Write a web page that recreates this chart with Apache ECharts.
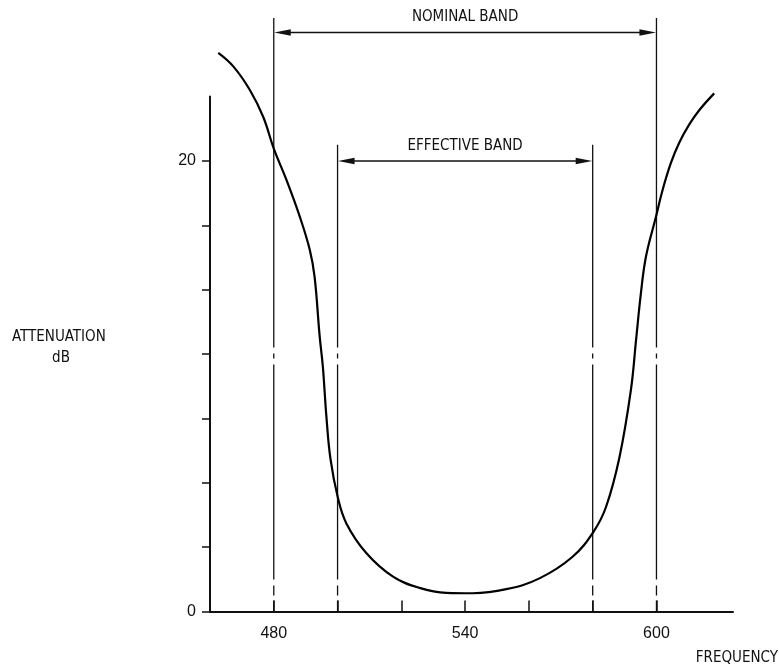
<!DOCTYPE html>
<html>
<head>
<meta charset="utf-8">
<script src="https://cdn.jsdelivr.net/npm/echarts@6/dist/echarts.min.js"></script>
<style>
html,body{margin:0;padding:0;background:#fff;}
#chart{width:779px;height:664px;}
</style>
</head>
<body>
<div id="chart"></div>
<script>
// ---- data ----
const frequency = [462.6, 467.3, 472.5, 476.7, 480.0, 484.0, 488.1, 491.3, 492.8, 494.4, 495.4, 496.5, 497.8, 500.1, 502.8, 509.0, 517.4, 525.7, 534.1, 542.4, 552.9, 563.3, 573.7, 580.3, 584.2, 588.4, 592.0, 593.6, 595.1, 596.7, 599.8, 601.9, 604.5, 607.1, 610.2, 613.4, 618.1];
const attenuation = [24.8, 24.2, 23.15, 21.95, 20.55, 19.15, 17.55, 16.05, 14.85, 12.2, 10.85, 8.65, 6.75, 5.05, 3.9, 2.6, 1.55, 1.05, 0.83, 0.81, 0.99, 1.47, 2.43, 3.55, 4.65, 6.85, 9.85, 12.05, 14.1, 15.75, 17.5, 18.7, 19.9, 20.8, 21.6, 22.25, 23.0];
const bandNames = ['NOMINAL BAND', 'EFFECTIVE BAND'];
const bandLow = [480, 500];
const bandHigh = [600, 580];
const xTickValues = [480, 500, 520, 540, 560, 580, 600];
const xLabelValues = [480, 540, 600];
const yTickValues = [0, 20/7, 40/7, 60/7, 80/7, 100/7, 120/7, 140/7];
const yLabelValues = [0, 20];

// ---- annotation placement (value space) ----
const bandArrowLevel = [25.7, 20.0];
const bandTopLevel = [26.35, 20.72];

const wordFont = "'Liberation Sans Narrow', 'DejaVu Sans Condensed', 'Liberation Sans', sans-serif";
const numFont = "'Liberation Sans', Arial, sans-serif";
const ink = '#111';

const curveData = frequency.map((f, i) => [f, attenuation[i]]);
const bandData = bandLow.map((lo, i) => [lo, bandHigh[i], bandArrowLevel[i], bandTopLevel[i]]);

const chart = echarts.init(document.getElementById('chart'), null, {renderer: 'canvas'});

chart.setOption({
  animation: false,
  backgroundColor: '#fff',
  grid: {left: 210, right: 46, top: 96.6, bottom: 52.5},
  xAxis: {
    type: 'value', min: 460, max: 624,
    axisLine: {show: true, lineStyle: {color: ink, width: 2}},
    axisTick: {show: true, inside: true, length: 11, customValues: xTickValues, lineStyle: {color: ink, width: 1.5}},
    axisLabel: {customValues: xLabelValues, margin: 14, color: ink, fontFamily: numFont, fontSize: 16},
    splitLine: {show: false}
  },
  yAxis: {
    type: 'value', min: 0, max: 160/7,
    axisLine: {show: true, lineStyle: {color: ink, width: 2}},
    axisTick: {show: true, inside: false, length: 8, customValues: yTickValues, lineStyle: {color: ink, width: 1.5}},
    axisLabel: {customValues: yLabelValues, margin: 14, color: ink, fontFamily: numFont, fontSize: 16},
    splitLine: {show: false}
  },
  graphic: [
    {type: 'text', x: 12, y: 337, style: {text: 'ATTENUATION', fill: ink, fontSize: 15, fontFamily: wordFont, align: 'left', verticalAlign: 'middle'}},
    {type: 'text', x: 61, y: 358, style: {text: 'dB', fill: ink, fontSize: 15, fontFamily: wordFont, align: 'center', verticalAlign: 'middle'}},
    {type: 'text', x: 778, y: 658, style: {text: 'FREQUENCY', fill: ink, fontSize: 15, fontFamily: wordFont, align: 'right', verticalAlign: 'middle'}}
  ],
  series: [
    {
      type: 'custom',
      clip: false,
      silent: true,
      encode: {x: [0, 1], y: [2, 3]},
      data: bandData,
      renderItem: function (params, api) {
        const i = params.dataIndex;
        const lo = api.value(0), hi = api.value(1);
        const aLev = api.value(2), tLev = api.value(3);
        const b1 = api.coord([lo, 0]), t1 = api.coord([lo, tLev]);
        const b2 = api.coord([hi, 0]), t2 = api.coord([hi, tLev]);
        const a1 = api.coord([lo, aLev]), a2 = api.coord([hi, aLev]);
        const dash = [11, 5, 10, 6, 215, 6, 5, 6, 3000, 0];
        const headL = 17, headW = 3.2;
        return {
          type: 'group',
          children: [
            {type: 'line', shape: {x1: b1[0], y1: b1[1], x2: t1[0], y2: t1[1]}, style: {stroke: ink, lineWidth: 1.3, lineDash: dash}},
            {type: 'line', shape: {x1: b2[0], y1: b2[1], x2: t2[0], y2: t2[1]}, style: {stroke: ink, lineWidth: 1.3, lineDash: dash}},
            {type: 'line', shape: {x1: a1[0] + headL - 2, y1: a1[1], x2: a2[0] - headL + 2, y2: a2[1]}, style: {stroke: ink, lineWidth: 1.4}},
            {type: 'polygon', shape: {points: [[a1[0] + 0.5, a1[1]], [a1[0] + headL, a1[1] - headW], [a1[0] + headL, a1[1] + headW]]}, style: {fill: ink}},
            {type: 'polygon', shape: {points: [[a2[0] - 0.5, a2[1]], [a2[0] - headL, a2[1] - headW], [a2[0] - headL, a2[1] + headW]]}, style: {fill: ink}},
            {type: 'text', x: (a1[0] + a2[0]) / 2, y: a1[1] - 15, style: {text: bandNames[i], fill: ink, fontSize: 15, fontFamily: wordFont, align: 'center', verticalAlign: 'middle'}}
          ]
        };
      }
    },
    {
      type: 'line',
      data: curveData,
      clip: false,
      smooth: 0.4,
      showSymbol: false,
      symbol: 'none',
      silent: true,
      lineStyle: {color: '#000', width: 2.2}
    }
  ]
});
</script>
</body>
</html>
